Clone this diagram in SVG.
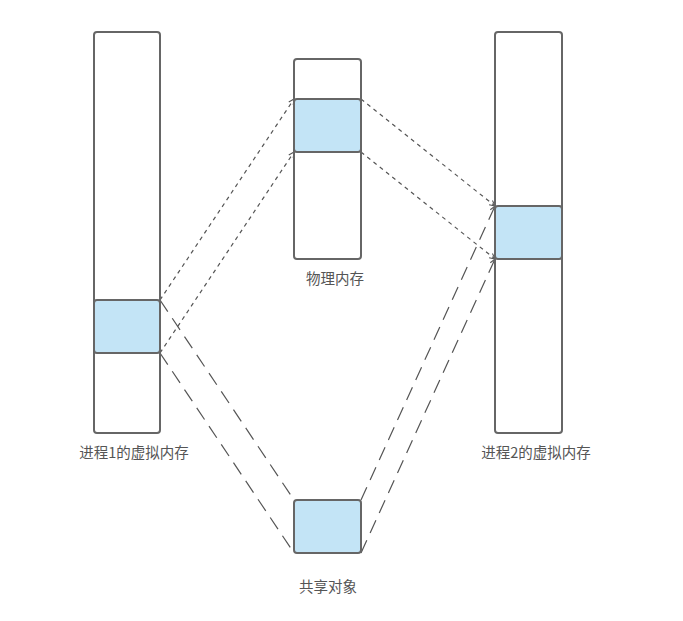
<svg xmlns="http://www.w3.org/2000/svg" width="683" height="621" viewBox="0 0 683 621">
<style>
.box{fill:#fff;stroke:#666;stroke-width:2}
.blk{fill:#c3e4f6;stroke:#666;stroke-width:2}
.lbl{font-family:"Noto Sans CJK SC","Liberation Sans",sans-serif;font-size:14.5px;fill:#555;text-anchor:middle}
.sd{fill:none;stroke:#555;stroke-width:1.2;stroke-dasharray:4 4}
.ld{fill:none;stroke:#555;stroke-width:1.2;stroke-dasharray:14 8}
</style>
<defs>
<marker id="ah" viewBox="0 0 8 8" refX="7" refY="4" markerWidth="6" markerHeight="6" orient="auto"><path d="M1,1 L7,4 L1,7" fill="none" stroke="#555" stroke-width="1.2"/></marker>
</defs>
<rect width="683" height="621" fill="#fff"/>
<g id="conn">
<line class="sd" x1="160" y1="300" x2="294" y2="99" marker-end="url(#ah)"/>
<line class="sd" x1="160" y1="353" x2="294" y2="152" marker-end="url(#ah)"/>
<line class="sd" x1="361" y1="99" x2="495" y2="206" marker-end="url(#ah)"/>
<line class="sd" x1="361" y1="152" x2="495" y2="259" marker-end="url(#ah)"/>
<line class="ld" x1="160" y1="300" x2="294" y2="500"/>
<line class="ld" x1="160" y1="353" x2="294" y2="553"/>
<line class="ld" x1="361" y1="500" x2="495" y2="206" marker-end="url(#ah)"/>
<line class="ld" x1="361" y1="553" x2="495" y2="259" marker-end="url(#ah)"/>
</g>
<g id="proc1">
<rect class="box" x="94" y="32" width="66" height="401" rx="3"/>
<rect class="blk" x="94" y="300" width="66" height="53" rx="3"/>
<text class="lbl" x="134" y="458">进程1的虚拟内存</text>
</g>
<g id="phys">
<rect class="box" x="294" y="59" width="67" height="200" rx="3"/>
<rect class="blk" x="294" y="99" width="67" height="53" rx="3"/>
<text class="lbl" x="335" y="284">物理内存</text>
</g>
<g id="proc2">
<rect class="box" x="495" y="32" width="67" height="401" rx="3"/>
<rect class="blk" x="495" y="206" width="67" height="53" rx="3"/>
<text class="lbl" x="536" y="458">进程2的虚拟内存</text>
</g>
<g id="shared">
<rect class="blk" x="294" y="500" width="67" height="53" rx="3"/>
<text class="lbl" x="328" y="592">共享对象</text>
</g>
</svg>
